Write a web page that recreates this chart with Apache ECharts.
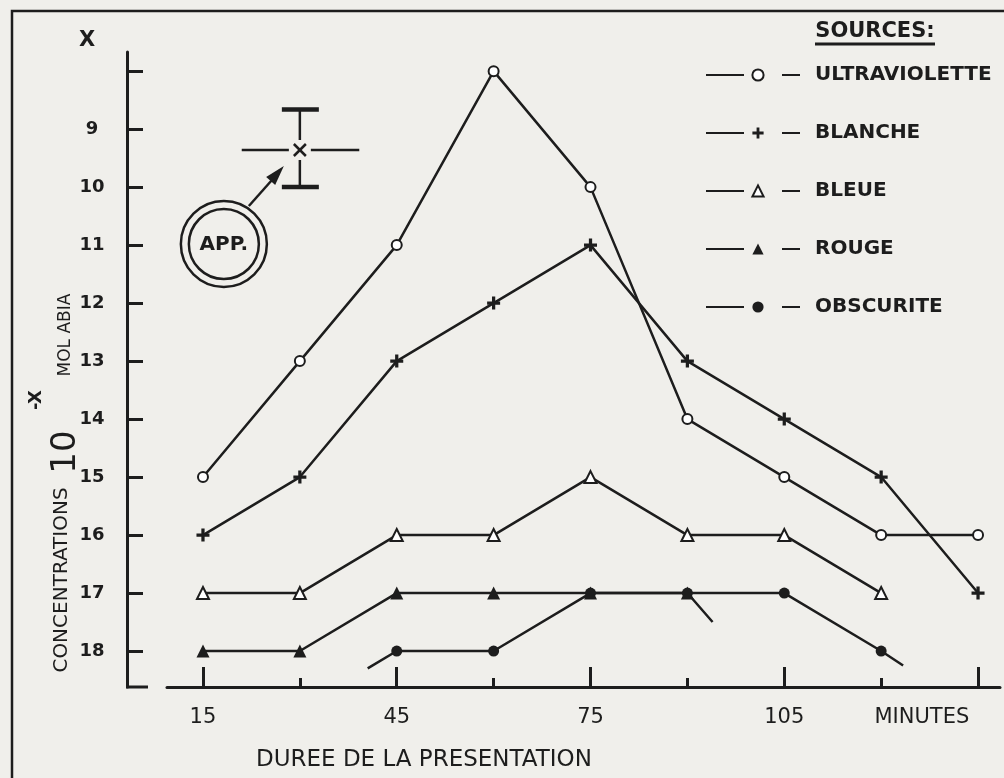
<!DOCTYPE html>
<html>
<head>
<meta charset="utf-8">
<script src="https://cdn.jsdelivr.net/npm/echarts@6/dist/echarts.min.js"></script>
<style>
  html, body { margin: 0; padding: 0; background: #f0efeb; }
  #chart { width: 1004px; height: 778px; }
</style>
</head>
<body>
<div id="chart"></div>
<script>
// 横轴：展示时长（分钟）
const minutes = [15, 30, 45, 60, 75, 90, 105, 120, 135];
const xTickMajor = [15, 45, 75, 105, 135];
const xTickMinor = [30, 60, 90, 120];
const xLabelValues = [15, 45, 75, 105, 126.3];
const xLabelTexts = ['15', '45', '75', '105', 'MINUTES'];

// 纵轴：浓度指数 x（10^-x）
const yTickValues = [8, 9, 10, 11, 12, 13, 14, 15, 16, 17, 18];
const yLabelValues = [9, 10, 11, 12, 13, 14, 15, 16, 17, 18];

// 各光源的数据
const ultraviolette = [15, 13, 11, 8, 10, 14, 15, 16, 16];
const blanche = [16, 15, 13, 12, 11, 13, 14, 15, 17];
const bleue = [17, 17, 16, 16, 15, 16, 16, 17, null];
const rouge = [18, 18, 17, 17, 17, 17, null, null, null];
const obscurite = [null, null, 18, 18, 17, 17, 17, 18, null];

// 线的残段（只画线，不画点）
const rougeTail = [93.9, 17.5];
const obscuriteHead = [40.5, 18.3];
const obscuriteTail = [123.4, 18.25];

// APP. 标注点及误差范围
const appPoint = [30, 9.36];
const appYRange = [8.66, 10.0];
const appXRange = [21, 39.2];

const INK = '#1d1d1d';
const FONT = "'DejaVu Sans', sans-serif";
const X_MIN = 9.43;
const X_MAX = 138.4;

// 数组转坐标对，去掉空值
const toPairs = vals => minutes
  .map((m, i) => (vals[i] == null ? null : [m, vals[i]]))
  .filter(Boolean);

const plusPath = 'path://M3.75,0h2.5v3.75h3.75v2.5h-3.75v3.75h-2.5v-3.75h-3.75v-2.5h3.75z';

// 折线公共样式
const baseLine = (name, data, symbol, size) => ({
  name,
  type: 'line',
  data,
  symbol,
  symbolSize: size,
  showSymbol: true,
  lineStyle: { color: INK, width: 2.5 },
  itemStyle: { color: INK, borderWidth: symbol.indexOf('empty') === 0 ? 2 : 0 },
  emphasis: { disabled: true },
  z: 3
});

// APP. 标注：误差棒 + 箭头 + 双圆圈
const renderApp = (params, api) => {
  const c = api.coord([api.value(0), api.value(1)]);
  const top = api.coord([api.value(0), api.value(2)]);
  const bot = api.coord([api.value(0), api.value(3)]);
  const left = api.coord([api.value(4), api.value(1)]);
  const right = api.coord([api.value(5), api.value(1)]);
  const thin = { stroke: INK, lineWidth: 2.5, fill: null };
  const thick = { stroke: INK, lineWidth: 4.5 };
  const cx = c[0] - 76;
  const cy = c[1] + 94;
  return {
    type: 'group',
    children: [
      { type: 'line', shape: { x1: c[0], y1: top[1], x2: c[0], y2: c[1] - 10 }, style: thin },
      { type: 'line', shape: { x1: c[0], y1: c[1] + 10, x2: c[0], y2: bot[1] }, style: thin },
      { type: 'line', shape: { x1: c[0] - 18, y1: top[1], x2: c[0] + 19, y2: top[1] }, style: thick },
      { type: 'line', shape: { x1: c[0] - 18, y1: bot[1], x2: c[0] + 19, y2: bot[1] }, style: thick },
      { type: 'line', shape: { x1: left[0], y1: c[1], x2: c[0] - 11, y2: c[1] }, style: thin },
      { type: 'line', shape: { x1: c[0] + 11, y1: c[1], x2: right[0], y2: c[1] }, style: thin },
      { type: 'line', shape: { x1: c[0] - 6, y1: c[1] - 6, x2: c[0] + 6, y2: c[1] + 6 }, style: thin },
      { type: 'line', shape: { x1: c[0] - 6, y1: c[1] + 6, x2: c[0] + 6, y2: c[1] - 6 }, style: thin },
      // 箭头
      { type: 'line', shape: { x1: c[0] - 51, y1: c[1] + 56, x2: c[0] - 27, y2: c[1] + 29 }, style: thin },
      {
        type: 'polygon',
        shape: { points: [[c[0] - 16, c[1] + 16], [c[0] - 24.7, c[1] + 35.1], [c[0] - 33.7, c[1] + 27.1]] },
        style: { fill: INK }
      },
      { type: 'circle', shape: { cx, cy, r: 43 }, style: thin },
      { type: 'circle', shape: { cx, cy, r: 35 }, style: thin },
      {
        type: 'text',
        x: cx, y: cy + 1,
        style: { text: 'APP.', align: 'center', verticalAlign: 'middle', fill: INK, font: 'bold 20px ' + FONT }
      }
    ]
  };
};

const chart = echarts.init(document.getElementById('chart'));

chart.setOption({
  backgroundColor: '#f0efeb',
  animation: false,
  textStyle: { fontFamily: FONT, color: INK },
  grid: { left: 167, right: 4, top: 52, bottom: 91 },
  legend: {
    orient: 'vertical',
    left: 700,
    top: 60,
    itemWidth: 104,
    itemHeight: 14,
    itemGap: 38,
    selectedMode: false,
    lineStyle: { type: [38, 38, 18, 60] },
    textStyle: { fontFamily: FONT, fontWeight: 'bold', fontSize: 20, lineHeight: 20, color: INK },
    data: ['ULTRAVIOLETTE', 'BLANCHE', 'BLEUE', 'ROUGE', 'OBSCURITE']
  },
  xAxis: [
    {
      type: 'value',
      min: X_MIN,
      max: X_MAX,
      axisLine: { show: true, lineStyle: { color: INK, width: 3 } },
      axisTick: { show: true, inside: true, length: 20, customValues: xTickMajor, lineStyle: { color: INK, width: 3 } },
      axisLabel: {
        customValues: xLabelValues,
        margin: 20,
        fontFamily: FONT,
        fontSize: 21,
        color: INK,
        formatter: v => xLabelTexts[xLabelValues.indexOf(v)] || ''
      },
      splitLine: { show: false }
    },
    {
      type: 'value',
      min: X_MIN,
      max: X_MAX,
      position: 'bottom',
      axisLine: { show: false },
      axisTick: { show: true, inside: true, length: 9, customValues: xTickMinor, lineStyle: { color: INK, width: 3 } },
      axisLabel: { show: false },
      splitLine: { show: false }
    }
  ],
  yAxis: {
    type: 'value',
    inverse: true,
    min: 7.67,
    max: 18.62,
    offset: 40,
    axisLine: { show: true, lineStyle: { color: INK, width: 3 } },
    axisTick: { show: true, inside: true, length: 16, customValues: yTickValues, lineStyle: { color: INK, width: 3 } },
    axisLabel: {
      customValues: yLabelValues,
      align: 'center',
      margin: 35,
      fontFamily: FONT,
      fontWeight: 'bold',
      fontSize: 18,
      color: INK
    },
    splitLine: { show: false }
  },
  graphic: [
    // 外框
    { type: 'polyline', shape: { points: [[12, 778], [12, 11], [1004, 11]] }, style: { stroke: INK, lineWidth: 2.5, fill: null } },
    // 纵轴底部的短横
    { type: 'line', shape: { x1: 126, y1: 687, x2: 148, y2: 687 }, style: { stroke: INK, lineWidth: 3 } },
    { type: 'text', x: 87, y: 41, style: { text: 'X', align: 'center', verticalAlign: 'middle', fill: INK, font: 'bold 21px ' + FONT } },
    // 图例标题
    { type: 'text', x: 875, y: 32, style: { text: 'SOURCES:', align: 'center', verticalAlign: 'middle', fill: INK, font: 'bold 21px ' + FONT } },
    { type: 'line', shape: { x1: 815, y1: 44, x2: 935, y2: 44 }, style: { stroke: INK, lineWidth: 3 } },
    // 纵轴标题（竖排）
    { type: 'text', x: 62, y: 580, rotation: Math.PI / 2, style: { text: 'CONCENTRATIONS', align: 'center', verticalAlign: 'middle', fill: INK, font: '20px ' + FONT } },
    { type: 'text', x: 66, y: 452, rotation: Math.PI / 2, style: { text: '10', align: 'center', verticalAlign: 'middle', fill: INK, font: '34px ' + FONT } },
    { type: 'text', x: 36, y: 400, rotation: Math.PI / 2, style: { text: '-X', align: 'center', verticalAlign: 'middle', fill: INK, font: 'bold 18px ' + FONT } },
    { type: 'text', x: 66, y: 335, rotation: Math.PI / 2, style: { text: 'MOL ABIA', align: 'center', verticalAlign: 'middle', fill: INK, font: '17px ' + FONT } },
    // 横轴标题
    { type: 'text', x: 256, y: 760, style: { text: 'DUREE DE LA PRESENTATION', align: 'left', verticalAlign: 'middle', fill: INK, font: '23px ' + FONT } }
  ],
  series: [
    baseLine('ULTRAVIOLETTE', toPairs(ultraviolette), 'emptyCircle', 10),
    baseLine('BLANCHE', toPairs(blanche), plusPath, 13),
    baseLine('BLEUE', toPairs(bleue), 'emptyTriangle', 12),
    baseLine('ROUGE', [...toPairs(rouge), { value: rougeTail, symbol: 'none' }], 'triangle', 13),
    baseLine('OBSCURITE', [
      { value: obscuriteHead, symbol: 'none' },
      ...toPairs(obscurite),
      { value: obscuriteTail, symbol: 'none' }
    ], 'circle', 11),
    {
      type: 'custom',
      name: 'APP',
      renderItem: renderApp,
      data: [[appPoint[0], appPoint[1], appYRange[0], appYRange[1], appXRange[0], appXRange[1]]],
      silent: true,
      clip: false,
      z: 4
    }
  ]
});
</script>
</body>
</html>
